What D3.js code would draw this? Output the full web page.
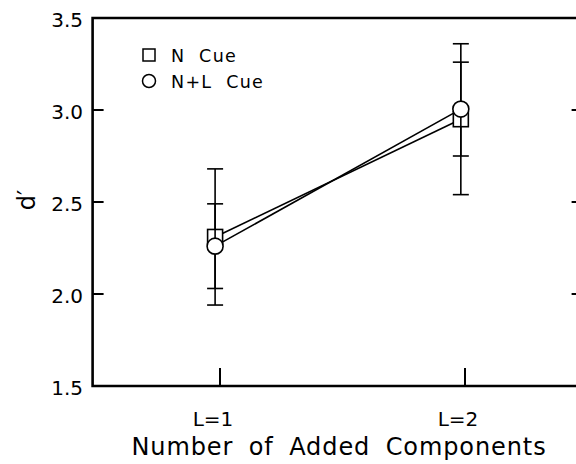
<!DOCTYPE html>
<html>
<head>
<meta charset="utf-8">
<script src="https://cdn.jsdelivr.net/npm/d3@7"></script>
<style>
  body { margin: 0; background: #fff; }
  svg { display: block; font-family: "DejaVu Sans", sans-serif; }
  .tick-label { font-size: 20px; fill: #000; }
  .legend-text { font-size: 17.5px; letter-spacing: 1.3px; }
  .axis-title { font-size: 24px; }
</style>
</head>
<body>
<svg></svg>
<script>
// categories on the x axis
const categories = ["L=1", "L=2"]
const catValues = [1, 2]
// where the points sit (slightly left of the ticks in the original)
const pointX = [0.98, 1.983]

// series
const seriesNames = ["N  Cue", "N+L  Cue"]
const nCue = [2.31, 2.95]
const nCueErr = [0.37, 0.41]
const nlCue = [2.26, 3.005]
const nlCueErr = [0.23, 0.255]

const yTicks = [1.5, 2.0, 2.5, 3.0, 3.5]

const width = 576
const height = 464

const svg = d3.select("svg")
  .attr("width", width)
  .attr("height", height)

const x = d3.scaleLinear()
  .domain([1, 2])
  .range([220, 465])

const y = d3.scaleLinear()
  .domain([1.5, 3.5])
  .range([386, 18])

const left = x(0.48)
const right = x(2.48)

// frame
const frame = svg.append("g")
  .attr("stroke", "#000")
  .attr("stroke-width", 2.6)
  .attr("fill", "none")

frame.append("path")
  .attr("d", `M${left},${y(3.5)}H${right}V${y(1.5)}H${left}Z`)
  .attr("stroke-linejoin", "miter")

// left ticks + right ticks (inward)
frame.selectAll("line.ly")
  .data(yTicks)
  .enter()
  .append("line")
  .attr("class", "ly")
  .attr("x1", left)
  .attr("x2", left + 11)
  .attr("y1", d => y(d))
  .attr("y2", d => y(d))
  .attr("stroke-width", 2)

frame.selectAll("line.ry")
  .data(yTicks)
  .enter()
  .append("line")
  .attr("class", "ry")
  .attr("x1", right)
  .attr("x2", right - 11)
  .attr("y1", d => y(d))
  .attr("y2", d => y(d))
  .attr("stroke-width", 2)

frame.selectAll("line.bx")
  .data(catValues)
  .enter()
  .append("line")
  .attr("class", "bx")
  .attr("x1", d => x(d))
  .attr("x2", d => x(d))
  .attr("y1", y(1.5))
  .attr("y2", y(1.5) - 18)
  .attr("stroke-width", 2)

// tick labels
svg.selectAll("text.ylab")
  .data(yTicks)
  .enter()
  .append("text")
  .attr("class", "tick-label")
  .attr("x", 83)
  .attr("y", d => y(d) + 9)
  .attr("text-anchor", "end")
  .text(d => d.toFixed(1))

svg.selectAll("text.xlab")
  .data(categories)
  .enter()
  .append("text")
  .attr("class", "tick-label")
  .attr("x", (d, i) => x(catValues[i]) - 7)
  .attr("y", 426)
  .attr("text-anchor", "middle")
  .text(d => d)

svg.append("text")
  .attr("class", "axis-title")
  .attr("x", 339)
  .attr("y", 455)
  .attr("text-anchor", "middle")
  .attr("letter-spacing", "0.9px")
  .attr("word-spacing", "7px")
  .text("Number of Added Components")

svg.append("text")
  .attr("class", "axis-title")
  .attr("transform", `translate(35, 200) rotate(-90)`)
  .attr("text-anchor", "middle")
  .text("d\u2032")

// series drawing
const series = [
  { name: seriesNames[0], vals: nCue, err: nCueErr, shape: "square" },
  { name: seriesNames[1], vals: nlCue, err: nlCueErr, shape: "circle" },
]

const line = d3.line()
  .x((d, i) => x(pointX[i]))
  .y(d => y(d))

series.forEach(s => {
  const g = svg.append("g")
    .attr("stroke", "#000")
    .attr("fill", "none")

  g.append("path")
    .datum(s.vals)
    .attr("d", line)
    .attr("stroke-width", 1.6)

  const bars = g.selectAll("g.err")
    .data(s.vals)
    .enter()
    .append("g")
    .attr("stroke-width", 1.6)

  bars.append("line")
    .attr("x1", (d, i) => x(pointX[i]))
    .attr("x2", (d, i) => x(pointX[i]))
    .attr("y1", (d, i) => y(d + s.err[i]))
    .attr("y2", (d, i) => y(d - s.err[i]))

  bars.append("line")
    .attr("x1", (d, i) => x(pointX[i]) - 8)
    .attr("x2", (d, i) => x(pointX[i]) + 8)
    .attr("y1", (d, i) => y(d + s.err[i]))
    .attr("y2", (d, i) => y(d + s.err[i]))

  bars.append("line")
    .attr("x1", (d, i) => x(pointX[i]) - 8)
    .attr("x2", (d, i) => x(pointX[i]) + 8)
    .attr("y1", (d, i) => y(d - s.err[i]))
    .attr("y2", (d, i) => y(d - s.err[i]))

  if (s.shape === "square") {
    g.selectAll("rect")
      .data(s.vals)
      .enter()
      .append("rect")
      .attr("x", (d, i) => x(pointX[i]) - 7.5)
      .attr("y", d => y(d) - 7.5)
      .attr("width", 15)
      .attr("height", 15)
      .attr("fill", "#fff")
      .attr("stroke-width", 1.6)
  } else {
    g.selectAll("circle")
      .data(s.vals)
      .enter()
      .append("circle")
      .attr("cx", (d, i) => x(pointX[i]))
      .attr("cy", d => y(d))
      .attr("r", 8)
      .attr("fill", "#fff")
      .attr("stroke-width", 1.6)
  }
})

// legend
const legend = svg.append("g")
  .attr("transform", "translate(149, 55)")

legend.append("rect")
  .attr("x", -6)
  .attr("y", -6)
  .attr("width", 12)
  .attr("height", 12)
  .attr("fill", "#fff")
  .attr("stroke", "#000")
  .attr("stroke-width", 1.5)

legend.append("circle")
  .attr("cx", 0)
  .attr("cy", 26)
  .attr("r", 6.5)
  .attr("fill", "#fff")
  .attr("stroke", "#000")
  .attr("stroke-width", 1.5)

legend.selectAll("text")
  .data(seriesNames)
  .enter()
  .append("text")
  .attr("class", "legend-text")
  .attr("x", 22)
  .attr("y", (d, i) => 6.5 + i * 26)
  .attr("xml:space", "preserve")
  .style("white-space", "pre")
  .text(d => d)
</script>
</body>
</html>
